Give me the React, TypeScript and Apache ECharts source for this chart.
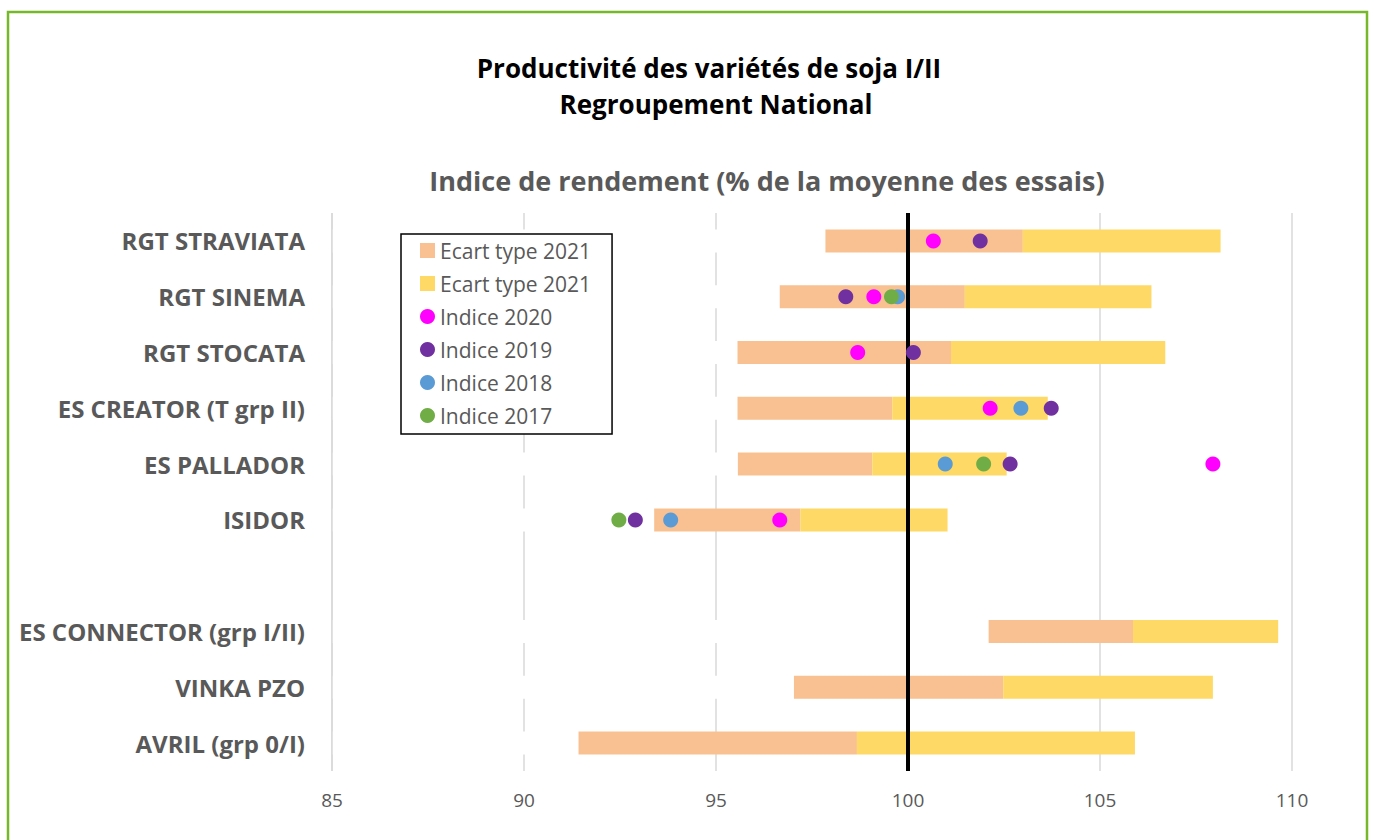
import React, { useEffect, useRef } from "react";
import * as echarts from "echarts";

const categories = [
  "RGT STRAVIATA",
  "RGT SINEMA",
  "RGT STOCATA",
  "ES CREATOR (T grp II)",
  "ES PALLADOR",
  "ISIDOR",
  "",
  "ES CONNECTOR (grp I/II)",
  "VINKA PZO",
  "AVRIL (grp 0/I)",
];

// bounds of the 2021 standard-deviation band (low, mean, high)
const ecartBas = [97.85, 96.66, 95.56, 95.56, 95.57, 93.39, null, 102.1, 97.03, 91.42];
const ecartMoy = [102.99, 101.48, 101.12, 99.59, 99.07, 97.2, null, 105.86, 102.48, 98.67];
const ecartHaut = [108.14, 106.34, 106.7, 103.64, 102.57, 101.03, null, 109.64, 107.94, 105.91];

const indice2020 = [100.66, 99.11, 98.69, 102.14, 107.94, 96.66, null, null, null, null];
const indice2019 = [101.88, 98.38, 100.14, 103.73, 102.66, 92.9, null, null, null, null];
const indice2018 = [null, 99.73, null, 102.94, 100.97, 93.82, null, null, null, null];
const indice2017 = [null, 99.57, null, null, 101.97, 92.47, null, null, null, null];

const xTicks = { min: 85, max: 110, interval: 5 };
const reference = 100;

const FONT = "Open Sans";
const GRAY = "#595959";

export default function App() {
  const ref = useRef<HTMLDivElement>(null);

  useEffect(() => {
    if (!ref.current) return;
    const chart = echarts.init(ref.current, null, { renderer: "svg" });

    const toPoints = (arr: (number | null)[]) =>
      arr
        .map((v, i) => (v == null ? null : [v, i]))
        .filter((d) => d !== null);

    const scatter = (name: string, arr: (number | null)[], color: string) => ({
      name,
      type: "scatter",
      data: toPoints(arr),
      symbol: "circle",
      symbolSize: 15,
      itemStyle: { color, opacity: 1 },
      z: 6,
    });

    const option: any = {
      animation: false,
      backgroundColor: "#ffffff",
      textStyle: { fontFamily: FONT },
      grid: { left: 332, right: 83, top: 213, bottom: 69, containLabel: false },
      xAxis: {
        type: "value",
        min: xTicks.min,
        max: xTicks.max,
        interval: xTicks.interval,
        axisLine: { show: false },
        axisTick: { show: false },
        axisLabel: { color: GRAY, fontSize: 19, margin: 19, fontFamily: FONT },
        splitLine: { show: true, lineStyle: { color: "#d9d9d9", width: 1.5 } },
      },
      yAxis: {
        type: "category",
        inverse: true,
        data: categories,
        axisLine: { show: false },
        axisTick: { show: false },
        splitLine: { show: false },
        axisLabel: {
          color: GRAY,
          fontSize: 24,
          fontWeight: "bold",
          margin: 27,
          fontFamily: FONT,
        },
      },
      legend: {
        orient: "vertical",
        left: 401,
        top: 234,
        padding: [6, 21, 8, 19],
        itemWidth: 15,
        itemHeight: 15,
        itemGap: 12,
        borderColor: "#000000",
        borderWidth: 1.5,
        backgroundColor: "#ffffff",
        formatter: (n: string) => n.trim(),
        textStyle: { color: GRAY, fontSize: 21, fontFamily: FONT, lineHeight: 21 },
        data: [
          { name: "Ecart type 2021", icon: "rect" },
          { name: "Ecart type 2021 ", icon: "rect" },
          { name: "Indice 2020", icon: "circle" },
          { name: "Indice 2019", icon: "circle" },
          { name: "Indice 2018", icon: "circle" },
          { name: "Indice 2017", icon: "circle" },
        ],
      },
      graphic: [
        {
          type: "rect",
          silent: true,
          shape: { x: 8, y: 12, width: 1359, height: 850 },
          style: { fill: "none", stroke: "#76b82a", lineWidth: 2.5 },
        },
        {
          type: "text",
          x: 709,
          y: 68,
          style: {
            text: "Productivité des variétés de soja I/II",
            fontFamily: FONT,
            fontSize: 26,
            fontWeight: "bold",
            fill: "#000000",
            textAlign: "center",
            textVerticalAlign: "middle",
          },
        },
        {
          type: "text",
          x: 716,
          y: 104,
          style: {
            text: "Regroupement National",
            fontFamily: FONT,
            fontSize: 26,
            fontWeight: "bold",
            fill: "#000000",
            textAlign: "center",
            textVerticalAlign: "middle",
          },
        },
        {
          type: "text",
          x: 767,
          y: 180,
          style: {
            text: "Indice de rendement (% de la moyenne des essais)",
            fontFamily: FONT,
            fontSize: 27,
            fontWeight: "bold",
            fill: GRAY,
            textAlign: "center",
            textVerticalAlign: "middle",
          },
        },
      ],
      series: [
        {
          name: "base",
          type: "bar",
          stack: "ecart",
          barWidth: 23,
          silent: true,
          itemStyle: { color: "#ffffff" },
          data: ecartBas.map((v) => (v == null ? "-" : v)),
        },
        {
          name: "Ecart type 2021",
          type: "bar",
          stack: "ecart",
          barWidth: 23,
          itemStyle: { color: "#f9c191" },
          data: ecartMoy.map((v, i) =>
            v == null || ecartBas[i] == null ? "-" : +(v - (ecartBas[i] as number)).toFixed(3)
          ),
        },
        {
          name: "Ecart type 2021 ",
          type: "bar",
          stack: "ecart",
          barWidth: 23,
          itemStyle: { color: "#ffd966" },
          data: ecartHaut.map((v, i) =>
            v == null || ecartMoy[i] == null ? "-" : +(v - (ecartMoy[i] as number)).toFixed(3)
          ),
          markLine: {
            silent: true,
            symbol: "none",
            z: 5,
            label: { show: false },
            data: [
              { xAxis: xTicks.min, lineStyle: { color: "#d9d9d9", width: 1.5, type: "solid" } },
              { xAxis: reference, lineStyle: { color: "#000000", width: 4, type: "solid" } },
            ],
          },
        },
        scatter("Indice 2020", indice2020, "#ff00ff"),
        scatter("Indice 2019", indice2019, "#7030a0"),
        scatter("Indice 2018", indice2018, "#5b9bd5"),
        scatter("Indice 2017", indice2017, "#70ad47"),
      ],
    };

    chart.setOption(option);
    return () => chart.dispose();
  }, []);

  return (
    <div
      ref={ref}
      style={{ position: "fixed", left: 0, top: 0, width: 1375, height: 840 }}
    />
  );
}
